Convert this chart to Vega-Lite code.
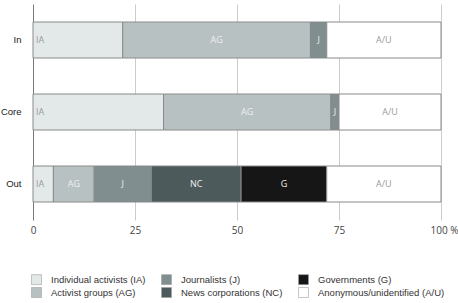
{
  "$schema": "https://vega.github.io/schema/vega-lite/v6.json",
  "width": 408,
  "height": 216,
  "autosize": "none",
  "padding": {"left": 33, "top": 4, "right": 17, "bottom": 83},
  "background": "white",
  "config": {"view": {"stroke": null}},
  "data": {
    "values": [
      {"group": "In", "cat": "Individual activists (IA)", "abbr": "IA", "seq": 1, "value": 22},
      {"group": "In", "cat": "Activist groups (AG)", "abbr": "AG", "seq": 2, "value": 46},
      {"group": "In", "cat": "Journalists (J)", "abbr": "J", "seq": 3, "value": 4},
      {"group": "In", "cat": "Anonymous/unidentified (A/U)", "abbr": "A/U", "seq": 6, "value": 28},
      {"group": "Core", "cat": "Individual activists (IA)", "abbr": "IA", "seq": 1, "value": 32},
      {"group": "Core", "cat": "Activist groups (AG)", "abbr": "AG", "seq": 2, "value": 41},
      {"group": "Core", "cat": "Journalists (J)", "abbr": "J", "seq": 3, "value": 2},
      {"group": "Core", "cat": "Anonymous/unidentified (A/U)", "abbr": "A/U", "seq": 6, "value": 25},
      {"group": "Out", "cat": "Individual activists (IA)", "abbr": "IA", "seq": 1, "value": 5},
      {"group": "Out", "cat": "Activist groups (AG)", "abbr": "AG", "seq": 2, "value": 10},
      {"group": "Out", "cat": "Journalists (J)", "abbr": "J", "seq": 3, "value": 14},
      {"group": "Out", "cat": "News corporations (NC)", "abbr": "NC", "seq": 4, "value": 22},
      {"group": "Out", "cat": "Governments (G)", "abbr": "G", "seq": 5, "value": 21},
      {"group": "Out", "cat": "Anonymous/unidentified (A/U)", "abbr": "A/U", "seq": 6, "value": 28}
    ]
  },
  "transform": [
    {"stack": "value", "groupby": ["group"], "sort": [{"field": "seq", "order": "ascending"}], "as": ["x0", "x1"]},
    {"calculate": "(datum.x0 + datum.x1) / 2", "as": "mid"}
  ],
  "encoding": {
    "y": {
      "field": "group",
      "type": "nominal",
      "sort": ["In", "Core", "Out"],
      "scale": {"paddingInner": 0.5, "paddingOuter": 0.25},
      "axis": {
        "title": null,
        "domain": false,
        "ticks": false,
        "labelPadding": 12,
        "labelFont": "Liberation Sans",
        "labelFontSize": 9.5,
        "labelColor": "#222222"
      }
    }
  },
  "layer": [
    {
      "mark": {"type": "bar", "stroke": "#8a8a8a", "strokeWidth": 1},
      "encoding": {
        "x": {
          "field": "x0",
          "type": "quantitative",
          "scale": {"domain": [0, 100], "nice": false},
          "axis": {
            "title": null,
            "values": [0, 25, 50, 75, 100],
            "domain": false,
            "ticks": false,
            "grid": true,
            "gridColor": {"condition": {"test": "datum.value === 0", "value": "#7a7a7a"}, "value": "#cccccc"},
            "gridWidth": 1,
            "labelFlush": false,
            "labelExpr": "datum.value == 100 ? '100 %' : datum.label",
            "labelOffset": {"condition": {"test": "datum.value == 100", "value": 3}, "value": 0},
            "labelPadding": 5,
            "labelFont": "Open Sans",
            "labelFontSize": 10,
            "labelColor": "#444444"
          }
        },
        "x2": {"field": "x1"},
        "color": {
          "field": "cat",
          "type": "nominal",
          "scale": {
            "domain": [
              "Individual activists (IA)",
              "Journalists (J)",
              "Governments (G)",
              "Activist groups (AG)",
              "News corporations (NC)",
              "Anonymous/unidentified (A/U)"
            ],
            "range": ["#e3e8e8", "#808e90", "#161616", "#b8c1c2", "#4d5a5b", "#ffffff"]
          },
          "legend": {
            "orient": "none",
            "legendX": -2,
            "legendY": 270,
            "columns": 3,
            "direction": "horizontal",
            "title": null,
            "symbolType": "square",
            "symbolSize": 100,
            "symbolStrokeWidth": 0.6,
            "symbolStrokeColor": "#a0a0a0",
            "labelFont": "Liberation Sans",
            "labelFontSize": 9.5,
            "labelColor": "#333333",
            "labelOffset": 9,
            "columnPadding": 14,
            "rowPadding": 0
          }
        },
        "order": {"field": "seq", "type": "quantitative"}
      }
    },
    {
      "transform": [{"filter": "datum.abbr == 'IA'"}],
      "mark": {"type": "text", "align": "left", "dx": 3, "font": "Open Sans", "fontSize": 9, "baseline": "middle"},
      "encoding": {
        "x": {"field": "x0", "type": "quantitative"},
        "text": {"field": "abbr"},
        "color": {"value": "#9a9a9a"}
      }
    },
    {
      "transform": [{"filter": "datum.abbr != 'IA'"}],
      "mark": {"type": "text", "align": "center", "font": "Open Sans", "fontSize": 9, "baseline": "middle"},
      "encoding": {
        "x": {"field": "mid", "type": "quantitative"},
        "text": {"field": "abbr"},
        "color": {
          "condition": {"test": "datum.abbr == 'A/U'", "value": "#9a9a9a"},
          "value": "#eef0f0"
        }
      }
    }
  ]
}
